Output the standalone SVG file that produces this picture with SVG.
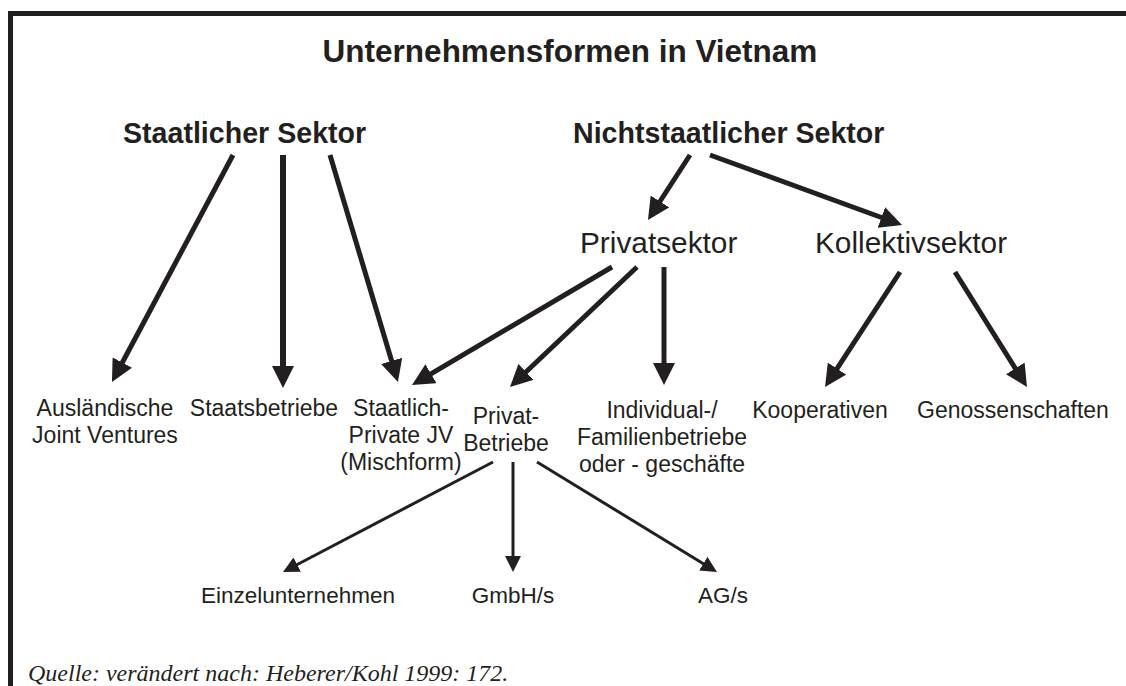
<svg xmlns="http://www.w3.org/2000/svg" width="1126" height="686" viewBox="0 0 1126 686">
<style>
text{font-family:"Liberation Sans",Arial,sans-serif;fill:#231f20}
.t{font-size:31.5px;font-weight:bold;text-anchor:middle}
.h{font-size:28.6px;font-weight:bold}
.m{font-size:29.8px}
.n{font-size:23px;text-anchor:middle}
.s{font-size:22.5px;text-anchor:middle}
.q{font-family:"Liberation Serif","Times New Roman",serif;font-style:italic;font-size:24px}
.a{stroke:#231f20;stroke-width:5;fill:none;marker-end:url(#ah)}
.b{stroke:#231f20;stroke-width:3;fill:none;marker-end:url(#as)}
</style>
<defs>
<marker id="ah" markerUnits="userSpaceOnUse" markerWidth="24" markerHeight="22" refX="3" refY="11" orient="auto"><path d="M0,0 L22,11 L0,22 z" fill="#231f20"/></marker>
<marker id="as" markerUnits="userSpaceOnUse" markerWidth="18" markerHeight="16" refX="2" refY="8" orient="auto"><path d="M0,0 L16,8 L0,16 z" fill="#231f20"/></marker>
</defs>
<rect width="1126" height="686" fill="#fff"/>
<g id="frame" stroke="#231f20" stroke-width="5" fill="none">
<line x1="10.5" y1="11" x2="10.5" y2="686"/>
<line x1="8" y1="13.5" x2="1126" y2="13.5"/>
</g>
<g id="title"><text class="t" x="570" y="62">Unternehmensformen in Vietnam</text></g>
<g id="staatlich"><text class="h" x="123" y="143">Staatlicher Sektor</text></g>
<g id="nichtstaatlich"><text class="h" x="573" y="143">Nichtstaatlicher Sektor</text></g>
<g id="privatsektor"><text class="m" x="580" y="253">Privatsektor</text></g>
<g id="kollektivsektor"><text class="m" x="815" y="253">Kollektivsektor</text></g>
<g id="auslaendisch"><text class="n" x="105" y="416">Ausländische</text><text class="n" x="105" y="443">Joint Ventures</text></g>
<g id="staatsbetriebe"><text class="n" x="264" y="416">Staatsbetriebe</text></g>
<g id="mischform"><text class="n" x="401" y="416">Staatlich-</text><text class="n" x="401" y="443">Private JV</text><text class="n" x="401" y="470">(Mischform)</text></g>
<g id="privatbetriebe"><text class="n" x="506" y="424">Privat-</text><text class="n" x="506" y="451">Betriebe</text></g>
<g id="individual"><text class="n" x="662" y="418">Individual-/</text><text class="n" x="662" y="445">Familienbetriebe</text><text class="n" x="662" y="472">oder - geschäfte</text></g>
<g id="kooperativen"><text class="n" x="820" y="418">Kooperativen</text></g>
<g id="genossenschaften"><text class="n" x="1013" y="418">Genossenschaften</text></g>
<g id="einzel"><text class="s" x="298" y="603">Einzelunternehmen</text></g>
<g id="gmbh"><text class="s" x="513" y="603">GmbH/s</text></g>
<g id="ag"><text class="s" x="723" y="603">AG/s</text></g>
<g id="quelle"><text class="q" x="28" y="681">Quelle: verändert nach: Heberer/Kohl 1999: 172.</text></g>
<g id="connectors">
<line class="a" x1="233" y1="155" x2="120.9" y2="365.2"/>
<line class="a" x1="283" y1="155" x2="283" y2="369" style="stroke-width:6"/>
<line class="a" x1="330" y1="155" x2="392.5" y2="363.8"/>
<line class="a" x1="612" y1="267" x2="428.4" y2="375.3"/>
<line class="a" x1="637" y1="267" x2="523.8" y2="374"/>
<line class="a" x1="664" y1="267" x2="664" y2="366"/>
<line class="a" x1="690" y1="155" x2="658.3" y2="204"/>
<line class="a" x1="710" y1="155" x2="884.2" y2="218.5"/>
<line class="a" x1="900" y1="272" x2="835.4" y2="371.1"/>
<line class="a" x1="955" y1="272" x2="1016.9" y2="370.9"/>
<line class="b" x1="493" y1="462" x2="295.4" y2="565.5"/>
<line class="b" x1="513" y1="462" x2="513" y2="558"/>
<line class="b" x1="537" y1="462" x2="705" y2="564.7"/>
</g>
</svg>
